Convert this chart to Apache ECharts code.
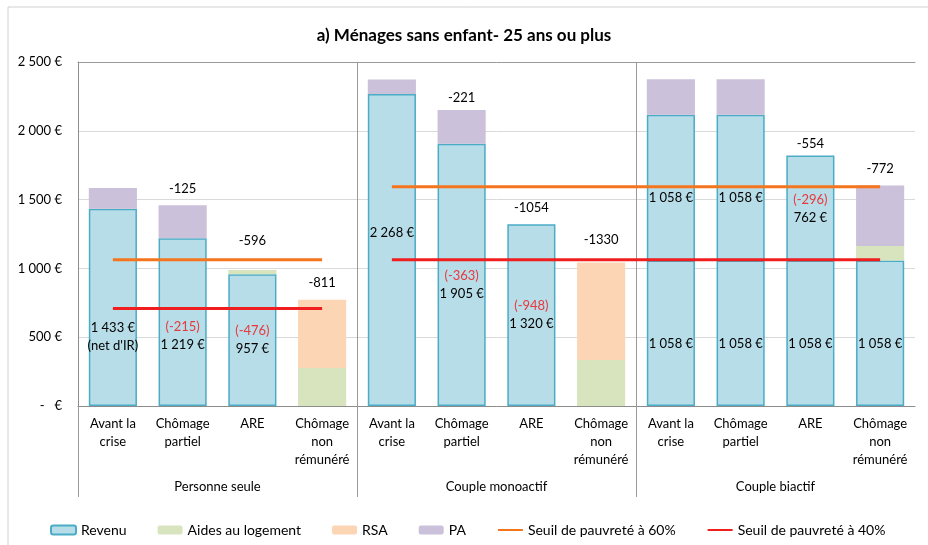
<!DOCTYPE html>
<html><head><meta charset="utf-8">
<script src="https://cdn.jsdelivr.net/npm/echarts@6/dist/echarts.min.js"></script>
<style>html,body{margin:0;padding:0;background:#fff}#c{width:928px;height:545px}</style>
</head><body><div id="c"></div>
<script>
// ---- Data ----
const categories = [
  'Avant la\ncrise','Chômage\npartiel','ARE','Chômage\nnon\nrémunéré',
  'Avant la\ncrise','Chômage\npartiel','ARE','Chômage\nnon\nrémunéré',
  'Avant la\ncrise','Chômage\npartiel','ARE','Chômage\nnon\nrémunéré'
];
const groups = ['Personne seule','Couple monoactif','Couple biactif'];
const yTickLabels = ['-   €','500 €','1 000 €','1 500 €','2 000 €','2 500 €'];

const revenu   = [1433,1219,957,null, 2268,1905,1320,null, 1058,1058,1058,1058];
const revenu2  = [null,null,null,null, null,null,null,null, 1058,1058,762,null];
const aides    = [null,null,31,276,    null,null,null,334,   null,null,null,105];
const rsa      = [null,null,null,497,  null,null,null,708,   null,null,null,null];
const pa       = [151,240,null,null,   104,246,null,null,    258,258,null,439];

const revenuNotes = ["(net d'IR)",null,null,null, null,null,null,null, null,null,null,null];
const revLoss     = [null,-215,-476,null, null,-363,-948,null, null,null,-296,null];
const totalDelta  = [null,-125,-596,-811, null,-221,-1054,-1330, null,null,-554,-772];

const seuil60  = [1063,1063,1063,1063, null,null,null,null, null,null,null,null];
const seuil60c = [null,null,null,null, 1594,1594,1594,1594, 1594,1594,1594,1594];
const seuil40  = [709,709,709,709, null,null,null,null, null,null,null,null];
const seuil40c = [null,null,null,null, 1063,1063,1063,1063, 1063,1063,1063,1063];

// ---- Style / layout settings (not data) ----
const FONT = 'Lato';
const RED = '#e8383d';
const labelShiftRevenu  = [29,14,0,0, -17,10,0,0, 11,11,11,11];   // vertical label nudges, px
const labelShiftRevenu2 = [0,0,0,0, 0,0,0,0, 10,10,1,0];
const labelShiftTotal   = [0,0,-13,0, 0,4,0,-6, 0,0,5,0];

// ---- Helpers ----
function fmt(v){ return String(v).replace(/\B(?=(\d{3})+(?!\d))/g,' ') + ' €'; }
const totals = revenu.map((_, i) => [revenu, revenu2, aides, rsa, pa].reduce((s, a) => s + (a[i] || 0), 0));
const groupAxisData = [];
for (let i = 0; i <= categories.length; i++) groupAxisData.push(i % 4 === 2 ? groups[(i - 2) / 4] : '');
const sepInterval = (i) => i % 4 === 0 && i < categories.length;

const labelBase = {
  show: true, position: 'inside', color: '#000', fontSize: 13, lineHeight: 18,
  fontFamily: FONT, rich: { r: { color: RED, fontSize: 13, lineHeight: 18, fontFamily: FONT } }
};
const revStyle = { color: '#b7dde8', borderColor: '#4bacc6', borderWidth: 1.5 };
const withShift = (arr, shifts) => arr.map((v, i) => ({ value: v, label: { offset: [0, shifts[i]] } }));

function lineSeries(name, data, color) {
  return { name, type: 'line', data, symbol: 'none', showSymbol: false, z: 5,
    lineStyle: { color, width: 3 }, itemStyle: { color }, silent: true };
}

const option = {
  animation: false,
  textStyle: { fontFamily: FONT },
  title: { text: 'a) Ménages sans enfant- 25 ans ou plus', left: 'center', top: 22,
    textStyle: { fontSize: 17, fontWeight: 'bold', color: '#000', fontFamily: FONT } },
  graphic: [{ type: 'rect', silent: true, z: -10, shape: { x: 8, y: 7, width: 1000, height: 1000 },
    style: { fill: 'none', stroke: '#d0d0d0', lineWidth: 1 } }],
  legend: {
    left: 45, top: 518, itemWidth: 25, itemHeight: 9, itemGap: 31,
    textStyle: { fontSize: 14, color: '#000', fontFamily: FONT },
    data: ['Revenu','Aides au logement','RSA','PA',
      { name: 'Seuil de pauvreté à 60%', itemStyle: { opacity: 0 } },
      { name: 'Seuil de pauvreté à 40%', itemStyle: { opacity: 0 } }]
  },
  grid: { left: 78, right: 13, top: 62, bottom: 139 },
  xAxis: [
    { type: 'category', data: categories, position: 'bottom',
      axisLine: { show: true, lineStyle: { color: '#8c8c8c', width: 1 } },
      axisTick: { show: false },
      axisLabel: { interval: 0, margin: 9, lineHeight: 18, fontSize: 13, color: '#000', fontFamily: FONT } },
    { type: 'category', data: groupAxisData, position: 'bottom', boundaryGap: false,
      axisLine: { show: false },
      axisTick: { show: true, interval: sepInterval, length: 91, lineStyle: { color: '#9a9a9a' } },
      axisLabel: { interval: 0, margin: 74, fontSize: 13, color: '#000', fontFamily: FONT },
      splitLine: { show: true, interval: sepInterval, lineStyle: { color: '#9a9a9a' } } },
    { type: 'category', data: categories, position: 'top',
      axisLine: { show: true, lineStyle: { color: '#9a9a9a' } },
      axisTick: { show: false }, axisLabel: { show: false } }
  ],
  yAxis: {
    type: 'value', min: 0, max: 2500, interval: 500,
    axisLine: { show: true, lineStyle: { color: '#8c8c8c' } },
    axisTick: { show: false },
    splitLine: { lineStyle: { color: '#d9d9d9' } },
    axisLabel: { margin: 16, fontSize: 13, color: '#000', fontFamily: FONT,
      formatter: (v) => yTickLabels[Math.round(v / 500)] }
  },
  series: [
    { name: 'Revenu', type: 'bar', stack: 'a', data: withShift(revenu, labelShiftRevenu), barCategoryGap: '31%', itemStyle: revStyle,
      label: Object.assign({}, labelBase, { formatter: (p) => {
        const i = p.dataIndex; if (revenu[i] == null) return '';
        let s = fmt(revenu[i]);
        if (revenuNotes[i]) s += '\n' + revenuNotes[i];
        if (revLoss[i] != null && revenu2[i] == null) s = '{r|(' + revLoss[i] + ')}\n' + s;
        return s; } }) },
    { name: 'Revenu', type: 'bar', stack: 'a', data: withShift(revenu2, labelShiftRevenu2), barCategoryGap: '31%', itemStyle: revStyle,
      label: Object.assign({}, labelBase, { formatter: (p) => {
        const i = p.dataIndex; if (revenu2[i] == null) return '';
        let s = fmt(revenu2[i]);
        if (revLoss[i] != null) s = '{r|(' + revLoss[i] + ')}\n' + s;
        return s; } }) },
    { name: 'Aides au logement', type: 'bar', stack: 'a', data: aides, barCategoryGap: '31%', itemStyle: { color: '#d7e4bd' } },
    { name: 'RSA', type: 'bar', stack: 'a', data: rsa, barCategoryGap: '31%', itemStyle: { color: '#fcd5b5' } },
    { name: 'PA', type: 'bar', stack: 'a', data: pa, barCategoryGap: '31%', itemStyle: { color: '#ccc1da' } },
    { name: 'total', type: 'bar', data: withShift(totals, labelShiftTotal), barGap: '-100%', barCategoryGap: '31%', silent: true,
      itemStyle: { color: 'rgba(0,0,0,0)' },
      label: { show: true, position: 'top', distance: 10, color: '#000', fontSize: 13, fontFamily: FONT,
        formatter: (p) => totalDelta[p.dataIndex] == null ? '' : String(totalDelta[p.dataIndex]) } },
    lineSeries('Seuil de pauvreté à 60%', seuil60, '#f5751f'),
    lineSeries('Seuil de pauvreté à 60%', seuil60c, '#f5751f'),
    lineSeries('Seuil de pauvreté à 40%', seuil40, '#f01e1e'),
    lineSeries('Seuil de pauvreté à 40%', seuil40c, '#f01e1e')
  ]
};
const chart = echarts.init(document.getElementById('c'), null, { renderer: 'canvas' });
chart.setOption(option);
</script></body></html>
